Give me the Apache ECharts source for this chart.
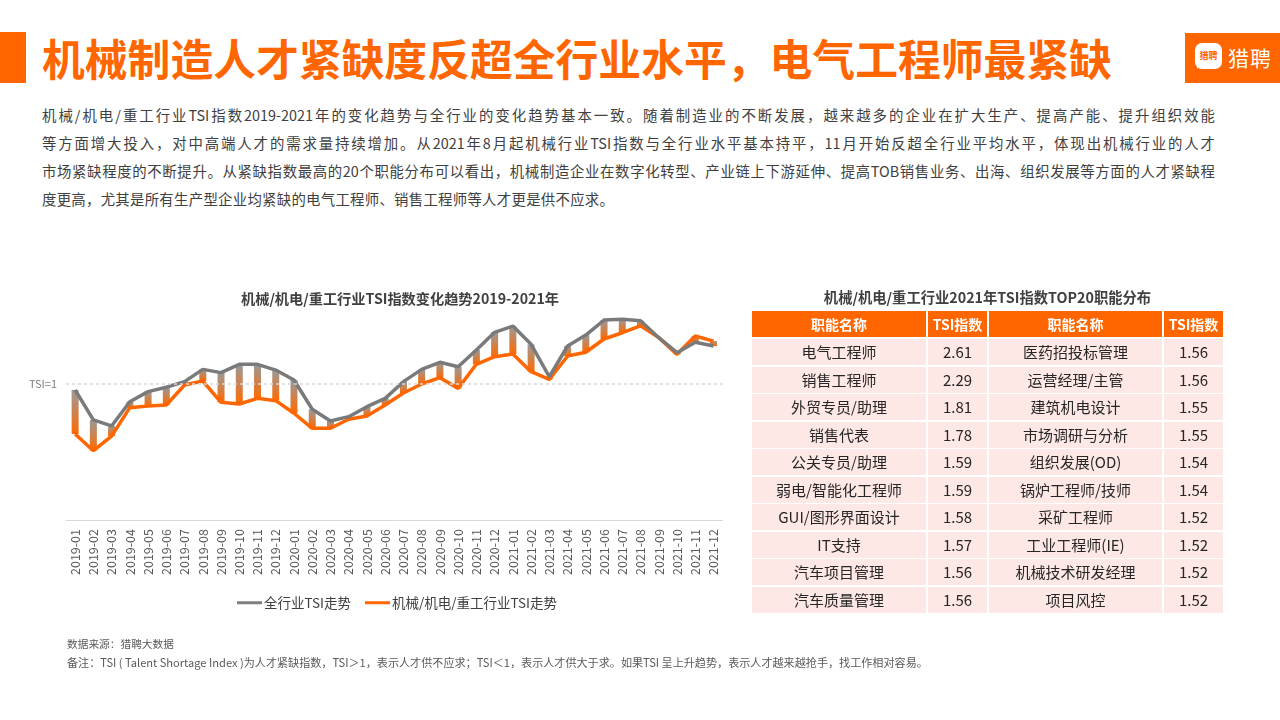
<!DOCTYPE html>
<html><head><meta charset="utf-8">
<script src="https://cdn.jsdelivr.net/npm/echarts@6/dist/echarts.min.js"></script>
<style>
html,body{margin:0;padding:0}
body{width:1280px;height:720px;background:#fff;font-family:"Noto Sans CJK SC","Noto Sans",sans-serif;position:relative;overflow:hidden;color:#404040}
.abs{position:absolute}
#bar{left:0;top:32px;width:26px;height:51px;background:#FF6600}
#title{left:42px;top:28px;font-size:42.8px;font-weight:bold;color:#FF6600;line-height:58px;white-space:nowrap}
#logo{left:1185px;top:33px;width:95px;height:50px;background:#FF6600}
#logoIcon{left:10px;top:10px;width:27px;height:26px;background:#fff;border-radius:7px;color:#FF6600;font-size:9px;font-weight:bold;line-height:26px;text-align:center}
#logoTail{left:12px;top:30px;width:0;height:0;border-left:5px solid #fff;border-bottom:6px solid transparent}
#logoText{left:43px;top:9px;color:#fff;font-size:21px;line-height:30px;letter-spacing:1px}
.para{left:42px;width:1173px;font-size:14.4px;line-height:28px;color:#404040;white-space:nowrap}
.just{text-align:justify;text-align-last:justify;white-space:normal;height:28px;overflow:visible}
#chart{left:0;top:0;width:760px;height:720px}
.th,.td{position:absolute;text-align:center;white-space:nowrap}
.th{background:#FF6600;color:#fff;font-weight:bold;font-size:14px;line-height:26px;height:26px}
.td{background:#FDE8E5;color:#262626;font-size:15px;line-height:26px;height:26px}
#tblTitle{left:752px;width:471px;top:287px;text-align:center;font-size:14.3px;font-weight:bold;color:#404040;line-height:20px}
.foot{left:67px;color:#595959;white-space:nowrap;line-height:16px}
</style></head>
<body>
<div id="bar" class="abs"></div>
<div id="title" class="abs">机械制造人才紧缺度反超全行业水平，电气工程师最紧缺</div>
<div id="logo" class="abs"><div id="logoIcon" class="abs">猎聘</div><div id="logoTail" class="abs"></div><div id="logoText" class="abs">猎聘</div></div>
<div class="abs para just" style="top:101px">机械/机电/重工行业TSI指数2019-2021年的变化趋势与全行业的变化趋势基本一致。随着制造业的不断发展，越来越多的企业在扩大生产、提高产能、提升组织效能</div>
<div class="abs para just" style="top:129px">等方面增大投入，对中高端人才的需求量持续增加。从2021年8月起机械行业TSI指数与全行业水平基本持平，11月开始反超全行业平均水平，体现出机械行业的人才</div>
<div class="abs para just" style="top:157px">市场紧缺程度的不断提升。从紧缺指数最高的20个职能分布可以看出，机械制造企业在数字化转型、产业链上下游延伸、提高TOB销售业务、出海、组织发展等方面的人才紧缺程</div>
<div class="abs para" style="top:185px;letter-spacing:0.28px">度更高，尤其是所有生产型企业均紧缺的电气工程师、销售工程师等人才更是供不应求。</div>
<div id="chart" class="abs"></div>
<div id="tblTitle" class="abs">机械/机电/重工行业2021年TSI指数TOP20职能分布</div>
<div id="table"></div>
<div class="abs foot" style="top:636px;font-size:10.7px">数据来源：猎聘大数据</div>
<div class="abs foot" style="top:654px;font-size:11.1px">备注：TSI ( Talent Shortage Index )为人才紧缺指数，TSI＞1，表示人才供不应求；TSI＜1，表示人才供大于求。如果TSI 呈上升趋势，表示人才越来越抢手，找工作相对容易。</div>
<script>
// ---- data ----
const months = ['2019-01','2019-02','2019-03','2019-04','2019-05','2019-06','2019-07','2019-08','2019-09','2019-10','2019-11','2019-12',
  '2020-01','2020-02','2020-03','2020-04','2020-05','2020-06','2020-07','2020-08','2020-09','2020-10','2020-11','2020-12',
  '2021-01','2021-02','2021-03','2021-04','2021-05','2021-06','2021-07','2021-08','2021-09','2021-10','2021-11','2021-12'];
const allTSI = [0.951,0.732,0.688,0.865,0.939,0.971,1.012,1.102,1.078,1.139,1.139,1.097,
  1.024,0.810,0.724,0.756,0.829,0.890,1.012,1.102,1.154,1.121,1.244,1.373,
  1.419,1.285,1.048,1.273,1.353,1.463,1.468,1.458,1.334,1.224,1.300,1.273];
const mechTSI = [0.629,0.507,0.614,0.822,0.834,0.841,0.988,1.017,0.861,0.849,0.890,0.873,
  0.781,0.671,0.671,0.737,0.761,0.841,0.929,0.995,1.041,0.963,1.139,1.195,
  1.214,1.085,1.029,1.200,1.227,1.324,1.370,1.421,1.334,1.212,1.346,1.309];
const seriesNames = ['全行业TSI走势','机械/机电/重工行业TSI走势'];
const chartTitle = '机械/机电/重工行业TSI指数变化趋势2019-2021年';
const refValue = 1;
const refLabel = 'TSI=1';

const tableHeaders = ['职能名称','TSI指数','职能名称','TSI指数'];
const leftJobs = ['电气工程师','销售工程师','外贸专员/助理','销售代表','公关专员/助理','弱电/智能化工程师','GUI/图形界面设计','IT支持','汽车项目管理','汽车质量管理'];
const leftTSI = ['2.61','2.29','1.81','1.78','1.59','1.59','1.58','1.57','1.56','1.56'];
const rightJobs = ['医药招投标管理','运营经理/主管','建筑机电设计','市场调研与分析','组织发展(OD)','锅炉工程师/技师','采矿工程师','工业工程师(IE)','机械技术研发经理','项目风控'];
const rightTSI = ['1.56','1.56','1.55','1.55','1.54','1.54','1.52','1.52','1.52','1.52'];

// ---- table ----
const cols = [[752,174],[928,59],[989,173],[1164,59]];
const tbl = document.getElementById('table');
function cell(cls, x, w, y, txt){
  const d = document.createElement('div');
  d.className = cls; d.style.left = x+'px'; d.style.width = w+'px'; d.style.top = y+'px';
  d.textContent = txt; tbl.appendChild(d);
}
tableHeaders.forEach((h,i)=>cell('th', cols[i][0], cols[i][1], 311, h));
for (let r=0;r<leftJobs.length;r++){
  const y = 339 + r*27.5;
  const vals = [leftJobs[r], leftTSI[r], rightJobs[r], rightTSI[r]];
  vals.forEach((v,i)=>cell('td', cols[i][0], cols[i][1], y, v));
}

// ---- chart ----
const lowVals = allTSI.map((v,i)=>Math.min(v, mechTSI[i]));
const gapVals = allTSI.map((v,i)=>Math.abs(v - mechTSI[i]));
const chart = echarts.init(document.getElementById('chart'));
chart.setOption({
  animation:false,
  textStyle:{fontFamily:'"Noto Sans CJK SC","Noto Sans",sans-serif'},
  title:{text:chartTitle, left:236, top:287, textStyle:{fontSize:14.2, fontWeight:'bold', color:'#404040'}},
  legend:{
    data:seriesNames, left:232, top:591, itemWidth:25, itemHeight:3, itemGap:14, icon:'rect',
    textStyle:{fontSize:13.5, color:'#404040', padding:[0,0,0,-3]}
  },
  grid:{left:66, width:656.6, top:301.3, height:218.7, outerBoundsMode:'none'},
  xAxis:{
    type:'category', data:months, boundaryGap:true,
    axisLine:{lineStyle:{color:'#d9d9d9', width:1}}, axisTick:{show:false},
    axisLabel:{rotate:90, fontSize:12.5, color:'#595959', margin:9, interval:0}
  },
  yAxis:{type:'value', min:0, max:1.6, show:false, splitLine:{show:false}},
  series:[
    {type:'bar', stack:'gap', data:lowVals, barWidth:7, silent:true,
     itemStyle:{color:'transparent'},
     markLine:{silent:true, symbol:'none', data:[{yAxis:refValue}],
       lineStyle:{type:[3,3], color:'#d9d9d9', width:1.5},
       label:{formatter:refLabel, position:'start', color:'#7f7f7f', fontSize:11, distance:9}}},
    {type:'bar', stack:'gap', data:gapVals, barWidth:7, silent:true,
     itemStyle:{color:new echarts.graphic.LinearGradient(0,0,0,1,[{offset:0,color:'#9a9a9a'},{offset:1,color:'#ff6a00'}])}},
    {name:seriesNames[1], type:'line', data:mechTSI, symbol:'none', z:3,
     lineStyle:{color:'#FF6600', width:3.5}, itemStyle:{color:'#FF6600'}},
    {name:seriesNames[0], type:'line', data:allTSI, symbol:'none', z:4,
     lineStyle:{color:'#7a7a7a', width:3.5}, itemStyle:{color:'#7f7f7f'}}
  ]
});
</script>
</body></html>
